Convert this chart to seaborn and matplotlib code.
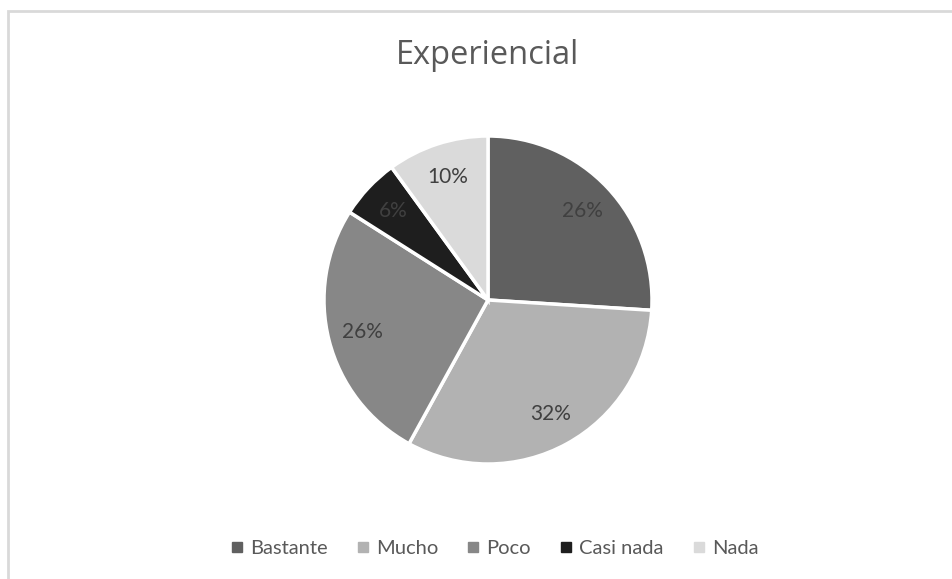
import matplotlib
matplotlib.use('Agg')
import matplotlib.pyplot as plt
from matplotlib.lines import Line2D
from matplotlib.patches import Rectangle
import seaborn as sns

sns.set_theme(style='white')
plt.rcParams['font.family'] = ['Lato', 'DejaVu Sans']

# data
categories = ['Bastante', 'Mucho', 'Poco', 'Casi nada', 'Nada']
values = [26, 32, 26, 6, 10]
colors = ['#606060', '#b2b2b2', '#878787', '#1e1e1e', '#dadada']
title = 'Experiencial'

W, H = 953, 579
fig = plt.figure(figsize=(W / 100, H / 100), dpi=100)

# chart frame (cut off at right and bottom like the screenshot)
fig.patches.append(Rectangle((8 / W, -0.1), 1.2, (H - 11) / H + 0.1,
                             transform=fig.transFigure, fill=False,
                             edgecolor='#d9d9d9', linewidth=2))

# pie area: centre (488, 300) px, radius 164 px
r = 164
ax = fig.add_axes([(488 - r) / W, (H - 300 - r) / H, 2 * r / W, 2 * r / H])
wedges, texts, autotexts = ax.pie(values, colors=colors, startangle=90,
                                  counterclock=False, autopct='%1.0f%%',
                                  pctdistance=0.79, radius=1,
                                  wedgeprops=dict(edgecolor='white', linewidth=2.5),
                                  textprops=dict(fontsize=15, color='#404040'))
ax.set_xlim(-1, 1)
ax.set_ylim(-1, 1)
ax.set_aspect('equal')
ax.axis('off')

fig.text(488 / W, 1 - 55 / H, title, ha='center', va='center',
         fontsize=23.5, color='#595959', family=['Open Sans', 'DejaVu Sans'])

handles = [Line2D([], [], marker='s', linestyle='', markersize=7,
                  markerfacecolor=c, markeredgecolor=c) for c in colors]
fig.legend(handles, categories, loc='center', bbox_to_anchor=(494 / W, 1 - 548 / H),
           ncol=5, frameon=False, fontsize=14.5, handlelength=0.7,
           handletextpad=0.3, columnspacing=1.4, labelcolor='#595959')

fig.savefig('out.png', dpi=100)
